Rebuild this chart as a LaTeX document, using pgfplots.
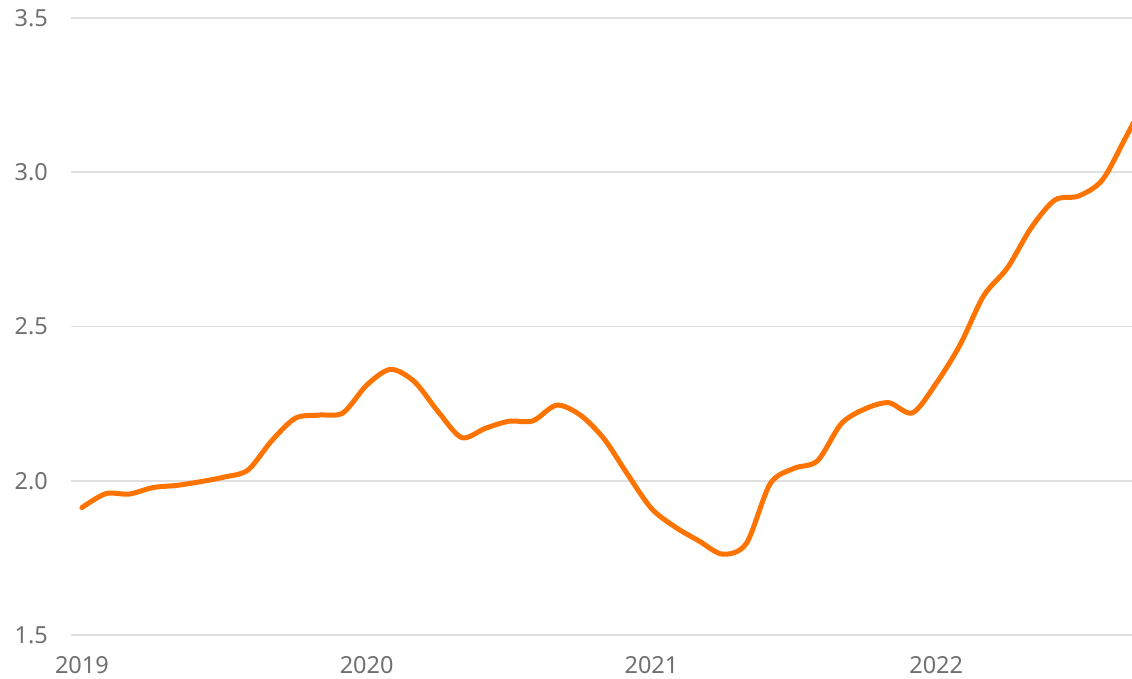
\documentclass[border=0pt]{standalone}
\usepackage{fontspec}
\setmainfont{Noto Sans}
\usepackage{pgfplots}
\pgfplotsset{compat=1.18}
\definecolor{lineor}{RGB}{255,115,0}
\definecolor{gridc}{RGB}{224,224,224}
\definecolor{labc}{RGB}{112,112,112}
\begin{document}
\begin{tikzpicture}
\begin{axis}[
  scale only axis,
  width=1061pt, height=617pt,
  xmin=-0.46, xmax=44.25,
  ymin=1.5, ymax=3.5,
  axis line style={draw=none},
  ytick={1.5,2.0,2.5,3.0,3.5},
  xtick={0,12,24,36},
  xticklabels={2019,2020,2021,2022},
  major tick length=0pt,
  ymajorgrids,
  grid style={gridc, line width=1.6pt},
  /pgf/number format/assume math mode=true,
  yticklabel={\pgfmathprintnumber[fixed,fixed zerofill,precision=1]{\tick}},
  tick label style={font=\fontsize{23.5}{28}\selectfont, text=labc, inner sep=0pt},
  yticklabel style={anchor=east},
  xticklabel style={anchor=north},
  yticklabel shift=23pt,
  xticklabel shift=21pt,
  clip=true,
]
\addplot[lineor, line width=5pt, smooth, tension=0.5, line cap=round, line join=round] coordinates {
(0,1.913) (1,1.958) (2,1.957) (3,1.978) (4,1.985) (5,1.997) (6,2.012) (7,2.035)
(8,2.130) (9,2.203) (10,2.213) (11,2.220) (12,2.310) (13,2.361) (14,2.322) (15,2.225)
(16,2.140) (17,2.170) (18,2.193) (19,2.194) (20,2.245) (21,2.213) (22,2.136) (23,2.020)
(24,1.910) (25,1.850) (26,1.805) (27,1.762) (28,1.797) (29,1.990) (30,2.040) (31,2.065)
(32,2.185) (33,2.233) (34,2.253) (35,2.220) (36,2.316) (37,2.440) (38,2.600) (39,2.690)
(40,2.820) (41,2.910) (42,2.923) (43,2.975) (44,3.115) (45,3.260)
};
\end{axis}
\pgfresetboundingbox
\path[use as bounding box] ([shift={(-71pt,-43pt)}]current axis.south west) rectangle ([shift={(0pt,18pt)}]current axis.north east);
\end{tikzpicture}
\end{document}
